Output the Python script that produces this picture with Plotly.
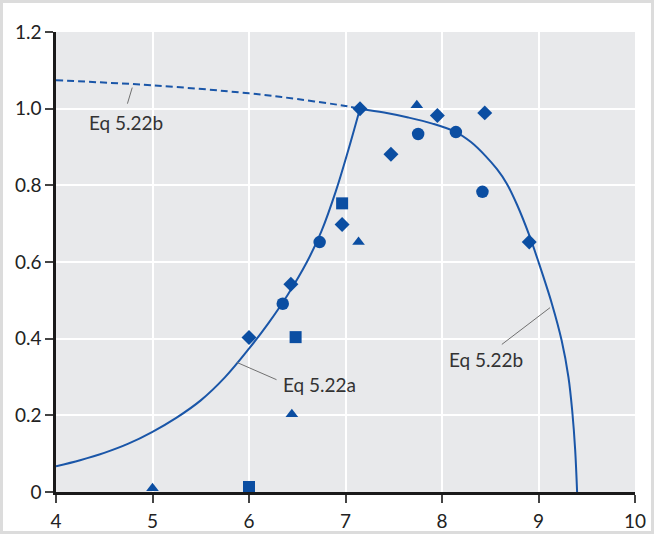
import plotly.graph_objects as go

# ---- data ----
# Eq 5.22a (solid rising curve)
eq_a_x = [4.0, 4.25, 4.5, 4.75, 5.0, 5.25, 5.5, 5.75, 6.0, 6.2, 6.4, 6.6, 6.75, 6.9, 7.03, 7.15]
eq_a_y = [0.067, 0.083, 0.102, 0.126, 0.157, 0.194, 0.239, 0.299, 0.374, 0.440, 0.514,
          0.60, 0.68, 0.785, 0.893, 1.0]

# Eq 5.22b solid part
eq_b_x = [7.15, 7.4, 7.65, 7.9, 8.144, 8.3, 8.45, 8.57, 8.67, 8.78, 8.904,
          9.0, 9.14, 9.24, 9.31, 9.35, 9.38, 9.40]
eq_b_y = [1.0, 0.99, 0.977, 0.961, 0.939, 0.913, 0.877, 0.842, 0.805, 0.748, 0.67,
          0.60, 0.49, 0.395, 0.30, 0.21, 0.11, 0.0]

# Eq 5.22b dashed extrapolation
eq_b_dash_x = [4.0, 5.0, 6.0, 6.5, 7.0, 7.15]
eq_b_dash_y = [1.074, 1.061, 1.04, 1.025, 1.007, 1.0]

# observations by marker type
diamond_x = [6.0, 6.434, 6.965, 7.15, 7.471, 7.952, 8.443, 8.904]
diamond_y = [0.403, 0.542, 0.698, 1.0, 0.881, 0.982, 0.989, 0.652]

circle_x = [6.35, 6.732, 7.753, 8.144, 8.419]
circle_y = [0.491, 0.652, 0.934, 0.939, 0.783]

square_x = [6.0, 6.483, 6.965]
square_y = [0.013, 0.404, 0.753]

triangle_x = [5.0, 6.444, 7.135, 7.739]
triangle_y = [0.01, 0.203, 0.652, 1.009]

x_ticks = [4, 5, 6, 7, 8, 9, 10]
x_tick_labels = ["4", "5", "6", "7", "8", "9", "10"]
y_ticks = [0, 0.2, 0.4, 0.6, 0.8, 1.0, 1.2]
y_tick_labels = ["0", "0.2", "0.4", "0.6", "0.8", "1.0", "1.2"]

# labels: (text, x, y) and leader lines (x0, y0, x1, y1)
labels = [("Eq 5.22b", 4.73, 0.963), ("Eq 5.22a", 6.73, 0.280), ("Eq 5.22b", 8.46, 0.345)]
leaders = [(4.79, 1.055, 4.74, 1.013), (5.875, 0.338, 6.285, 0.293), (9.12, 0.481, 8.62, 0.385)]

BLUE = "#0b4ea2"
LINE_BLUE = "#1a56a8"
FONT = "Lato"

fig = go.Figure()

fig.add_trace(go.Scatter(x=eq_b_dash_x, y=eq_b_dash_y, mode="lines",
                         line=dict(color=LINE_BLUE, width=2, dash="7px,4px", shape="spline"),
                         hoverinfo="skip", showlegend=False))
fig.add_trace(go.Scatter(x=eq_a_x, y=eq_a_y, mode="lines",
                         line=dict(color=LINE_BLUE, width=2, shape="spline", smoothing=1.0),
                         showlegend=False))
fig.add_trace(go.Scatter(x=eq_b_x, y=eq_b_y, mode="lines",
                         line=dict(color=LINE_BLUE, width=2, shape="spline", smoothing=1.0),
                         showlegend=False))

for xs, ys, sym, sz in [(diamond_x, diamond_y, "diamond", 11.5),
                        (circle_x, circle_y, "circle", 12.5),
                        (square_x, square_y, "square", 12),
                        (triangle_x, triangle_y, "triangle-up", 11)]:
    fig.add_trace(go.Scatter(x=xs, y=ys, mode="markers", cliponaxis=False,
                             marker=dict(symbol=sym, size=sz, color=BLUE, line=dict(width=0)),
                             showlegend=False))

for (x0, y0, x1, y1) in leaders:
    fig.add_shape(type="line", x0=x0, y0=y0, x1=x1, y1=y1, xref="x", yref="y",
                  line=dict(color="#707070", width=1))

for (t, x, y) in labels:
    fig.add_annotation(x=x, y=y, text=t, showarrow=False, xref="x", yref="y",
                       font=dict(family=FONT, size=19, color="#333333"))

W, H = 654, 534
ML, MR, MT, MB = 56, 19, 32, 42
pw, ph = W - ML - MR, H - MT - MB

# light grey outer frame
fig.add_shape(type="rect", xref="paper", yref="paper",
              x0=-ML / pw, x1=1 + MR / pw, y0=-MB / ph, y1=1 + MT / ph,
              line=dict(color="#dcdcdc", width=6), fillcolor="rgba(0,0,0,0)", layer="below")

axis_common = dict(showgrid=True, gridcolor="white", gridwidth=2, zeroline=False,
                   showline=True, linecolor="#1a1a1a", linewidth=2.5, automargin=False,
                   ticks="outside", ticklen=8, tickwidth=1.5, tickcolor="#444444",
                   tickfont=dict(family=FONT, size=19, color="#222222"))

fig.update_layout(
    width=W, height=H,
    margin=dict(l=ML, r=MR, t=MT, b=MB, autoexpand=False),
    paper_bgcolor="white", plot_bgcolor="#e8e9eb",
    xaxis=dict(range=[4, 10], tickvals=x_ticks, ticktext=x_tick_labels,
               ticklabelstandoff=2, **axis_common),
    yaxis=dict(range=[0, 1.2], tickvals=y_ticks, ticktext=y_tick_labels, **axis_common),
    showlegend=False,
)

fig.write_html("out.html", config={"displayModeBar": False},
               post_script="document.body.style.margin='0px';")
